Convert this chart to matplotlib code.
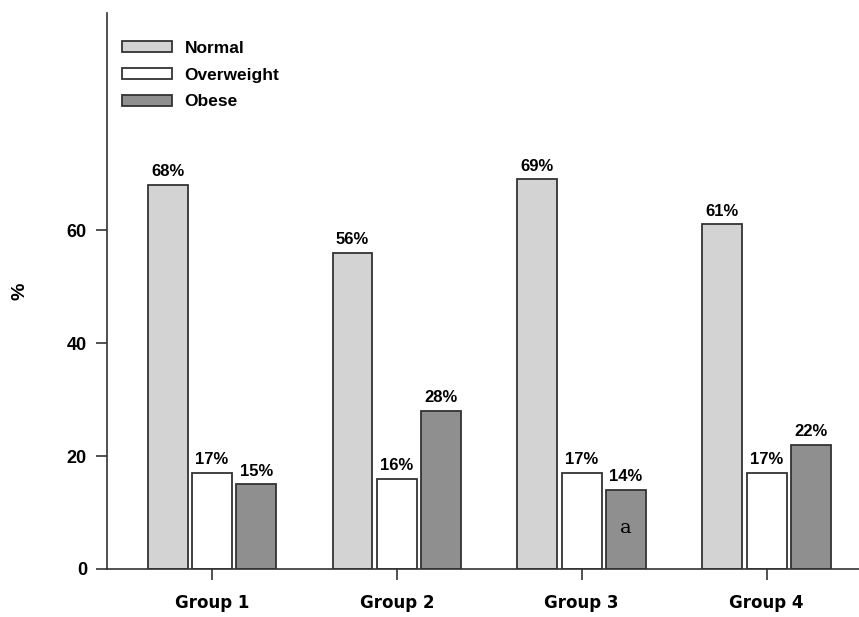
import matplotlib
matplotlib.use("Agg")
import matplotlib.pyplot as plt
import numpy as np

groups = ["Group 1", "Group 2", "Group 3", "Group 4"]
series = ["Normal", "Overweight", "Obese"]
normal = [68, 56, 69, 61]
overweight = [17, 16, 17, 17]
obese = [15, 28, 14, 22]
yticks = [0, 20, 40, 60]

_COLORS = ["#d3d3d3", "#ffffff", "#8f8f8f"]
_EDGE = "#333333"
_BOLD = dict(family="Liberation Sans", weight="bold")

fig = plt.figure(figsize=(8.59, 6.17), dpi=100)
ax = fig.add_axes([0.1246, 0.0778, 0.8754, 0.901])

x = np.arange(len(groups))
step, width = 0.24, 0.216
for i, (name, vals, col) in enumerate(zip(series, [normal, overweight, obese], _COLORS)):
    b = ax.bar(x + (i - 1) * step, vals, width, color=col, edgecolor=_EDGE,
               linewidth=1.3, label=name)
    for rect, v in zip(b, vals):
        ax.annotate(f"{v}%", (rect.get_x() + rect.get_width() / 2, v),
                    xytext=(0, 4), textcoords="offset points",
                    ha="center", va="bottom", fontsize=12, **_BOLD)

# footnote marker on the Group 3 obese bar
ax.text(x[2] + step, 7.3, "a", ha="center", va="center",
        fontsize=14, family="DejaVu Serif")

ax.set_xlim(-0.568, 3.5)
ax.set_ylim(0, 98.4)
ax.set_xticks(x)
ax.set_xticklabels(groups, fontsize=12, family="DejaVu Sans", weight="bold")
ax.set_yticks(yticks)
ax.set_yticklabels([str(t) for t in yticks], fontsize=13, **_BOLD)
ax.tick_params(axis="x", length=8, width=1.2, pad=10, color=_EDGE)
ax.tick_params(axis="y", length=8, width=1.2, pad=6.5, color=_EDGE)

ax.set_ylabel("%", fontsize=14, **_BOLD)
ax.yaxis.set_label_coords(-0.104, 0.50)

for side in ("top", "right"):
    ax.spines[side].set_visible(False)
for side in ("left", "bottom"):
    ax.spines[side].set_linewidth(1.2)
    ax.spines[side].set_color(_EDGE)

ax.legend(loc="upper left", bbox_to_anchor=(0.02, 0.95), frameon=False,
          borderpad=0, borderaxespad=0, handlelength=2.9, handleheight=0.57,
          handletextpad=0.7, labelspacing=0.68,
          prop=dict(family="Liberation Sans", weight="bold", size=12.5))

fig.savefig("out.png", dpi=100, facecolor="white")
